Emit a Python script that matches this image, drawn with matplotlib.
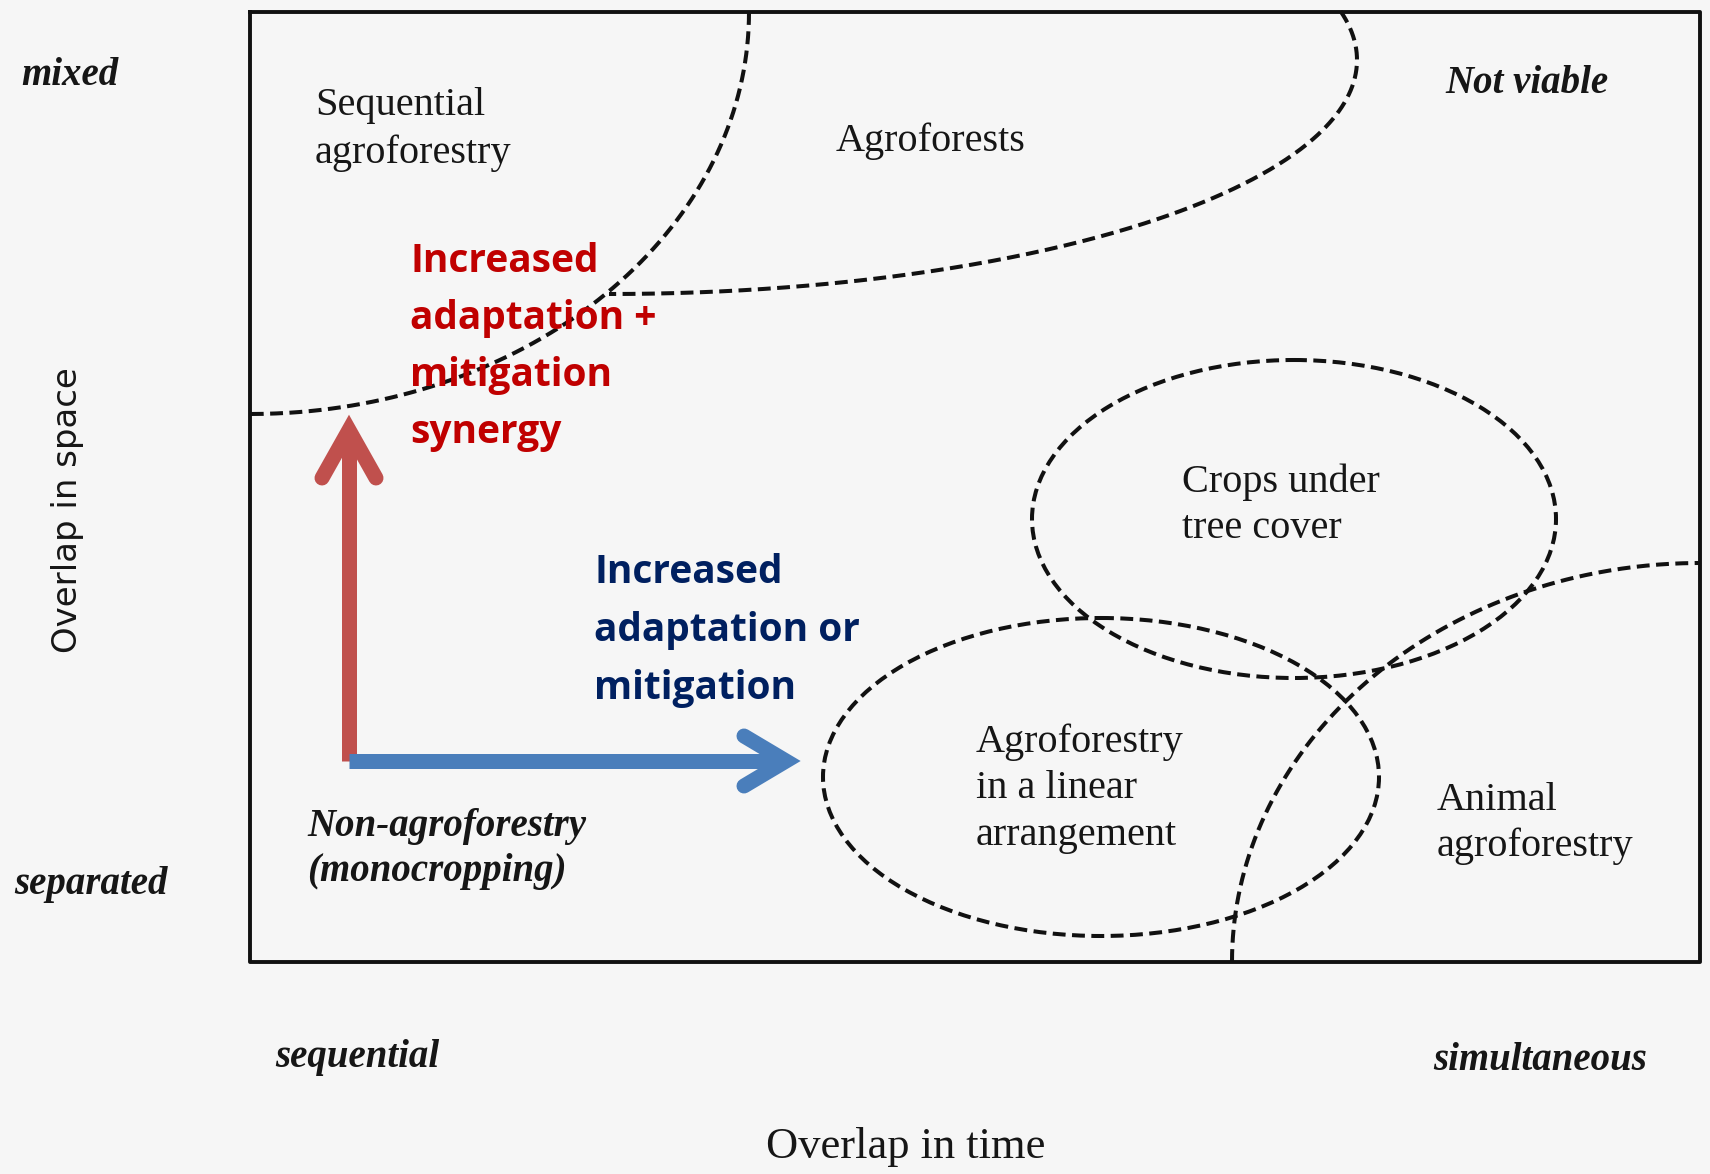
import numpy as np
import matplotlib.pyplot as plt
from matplotlib.patches import Ellipse

# canvas in pixel units of the reference (1710 x 1174)
W, H = 1710, 1174
box = [250, 12, 1700, 962]  # left, top, right, bottom

# dashed boundary arcs: centre x, centre y, half-width, half-height, start deg, end deg
arc_cx = [250, 609, 1700]
arc_cy = [12, 60, 962]
arc_a = [499, 748, 468]
arc_b = [402, 234, 399]
arc_t0 = [0, -12, 180]
arc_t1 = [90, 90, 270]

# dashed ellipses: crops under tree cover, linear arrangement
ell_cx = [1294, 1101]
ell_cy = [519, 777]
ell_w = [524, 556]
ell_h = [318, 318]

# region labels (upright)
reg_lines = [["Sequential", "agroforestry"],
             ["Crops under", "tree cover"],
             ["Agroforestry", "in a linear", "arrangement"],
             ["Animal", "agroforestry"]]
reg_x = [315, 1182, 976, 1437]
reg_y0 = [115, 492, 752, 810]
reg_step = [48, 46, 46.5, 46]

# single-line labels
lab_text = ["Agroforests", "Overlap in time"]
lab_x = [931, 906]
lab_y = [151, 1158]

# italic labels
ital_text = ["mixed", "separated", "sequential", "simultaneous", "Not viable"]
ital_x = [70, 91, 357, 1540, 1527]
ital_y = [85, 894, 1067, 1070, 93]

red_lines = ["Increased", "adaptation +", "mitigation", "synergy"]
blue_lines = ["Increased", "adaptation or", "mitigation"]

fig = plt.figure(figsize=(17.1, 11.74), dpi=100)
fig.patch.set_facecolor('#f6f6f6')
ax = fig.add_axes([0, 0, 1, 1])
ax.set_xlim(0, W)
ax.set_ylim(H, 0)
ax.axis('off')

dash = (0, (3.2, 1.6))
lw_d = 2.9

# frame
ax.plot([box[0], box[2], box[2], box[0], box[0]],
        [box[1], box[1], box[3], box[3], box[1]], color='#111111', lw=2.8)

for cx, cy, a, b, t0, t1 in zip(arc_cx, arc_cy, arc_a, arc_b, arc_t0, arc_t1):
    t = np.radians(np.linspace(t0, t1, 300))
    ax.plot(cx + a * np.cos(t), cy + b * np.sin(t), color='#111111', lw=lw_d, ls=dash)

for cx, cy, w, h in zip(ell_cx, ell_cy, ell_w, ell_h):
    ax.add_patch(Ellipse((cx, cy), w, h, fill=False, ec='#111111', lw=lw_d, ls=dash))

serif = 'Liberation Serif'
tc = '#161616'
for lines, x, y0, st in zip(reg_lines, reg_x, reg_y0, reg_step):
    for i, s in enumerate(lines):
        ax.text(x, y0 + i * st, s, fontsize=29, family=serif, color=tc,
                ha='left', va='baseline')

ax.text(307, 836, "Non-agroforestry", fontsize=28, family=serif, style='italic',
        weight='bold', color=tc, va='baseline')
ax.text(307, 881, "(monocropping)", fontsize=28, family=serif, style='italic',
        weight='bold', color=tc, va='baseline')

ax.text(lab_x[0], lab_y[0], lab_text[0], fontsize=29, family=serif, color=tc,
        ha='center', va='baseline')
ax.text(lab_x[1], lab_y[1], lab_text[1], fontsize=32, family=serif, color=tc,
        ha='center', va='baseline')

for s, x, y in zip(ital_text, ital_x, ital_y):
    ax.text(x, y, s, fontsize=28, family=serif, style='italic', weight='bold',
            color=tc, ha='center', va='baseline')

ax.text(68, 510, "Overlap in space", fontsize=24.5, family='DejaVu Sans', color=tc,
        rotation=90, ha='center', va='center')

# arrows (open chevron heads)
red_c = '#c0504d'
blue_c = '#4a7ebb'
alw = 10.8
ax.plot([349, 349], [761, 432], color=red_c, lw=alw, solid_capstyle='butt')
ax.plot([322, 349, 376], [478, 430, 478], color=red_c, lw=alw,
        solid_capstyle='round', solid_joinstyle='miter')
ax.plot([349, 784], [761, 761], color=blue_c, lw=alw, solid_capstyle='butt')
ax.plot([744, 786, 744], [736, 761, 786], color=blue_c, lw=alw,
        solid_capstyle='round', solid_joinstyle='miter')

for i, s in enumerate(red_lines):
    ax.text(410, 272 + i * 57, s, fontsize=28, family='Open Sans', weight='bold',
            color='#c00000', va='baseline')
for i, s in enumerate(blue_lines):
    ax.text(594, 583 + i * 58, s, fontsize=28, family='Open Sans', weight='bold',
            color='#002060', va='baseline')

fig.savefig('out.png', dpi=100, facecolor=fig.get_facecolor())
